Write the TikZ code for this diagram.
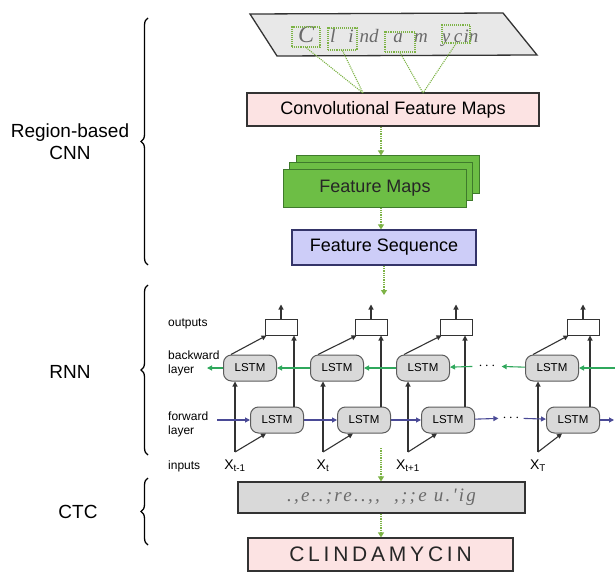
\documentclass[tikz,border=0pt]{standalone}
\usepackage{fontspec}
\setmainfont{Liberation Sans}
\newfontfamily\handfont{Liberation Serif}
\usepackage{xcolor}
\usetikzlibrary{arrows.meta,positioning,calc,decorations.pathreplacing}

\definecolor{convpink}{HTML}{FCE3E3}
\definecolor{fmgreen}{HTML}{6DBE45}
\definecolor{fmedge}{HTML}{3F7A2C}
\definecolor{seqblue}{HTML}{CDCDF8}
\definecolor{ctcgray}{HTML}{D9D9D9}
\definecolor{dotgreen}{HTML}{7DB346}
\definecolor{bwdgreen}{HTML}{2FA85C}
\definecolor{fwdnavy}{HTML}{4A4A96}
\definecolor{inkgray}{HTML}{6A6A6A}
\definecolor{edge}{HTML}{333333}

\begin{document}
\begin{tikzpicture}[x=1pt,y=-1pt,
    box/.style={draw=edge,line width=1.2pt,inner sep=0pt,font=\fontsize{18}{20}\selectfont},
    pinkb/.style={fill=convpink},
    greenb/.style={fill=fmgreen,draw=fmedge,minimum width=183pt,minimum height=37pt},
    blueb/.style={fill=seqblue},
    grayb/.style={fill=ctcgray},
    region/.style={draw=dotgreen,densely dotted,line width=1.1pt,inner sep=0pt},
    dotarrow/.style={draw=dotgreen,densely dotted,line width=1.3pt,-{Triangle[length=5pt,width=6pt]}},
    lstm/.style={draw=edge!80,fill=gray!30,line width=1pt,rounded corners=8pt,minimum width=53pt,minimum height=26pt,inner sep=0pt,font=\fontsize{11.5}{12}\selectfont},
    outbox/.style={draw=edge,fill=white,line width=1pt,minimum width=32pt,minimum height=16pt,inner sep=0pt},
    rnnarrow/.style={draw=edge,line width=1.1pt,-{Triangle[length=5pt,width=5pt]}},
    bwd/.style={draw=bwdgreen,line width=1.1pt,-{Triangle[length=5pt,width=5pt]}},
    fwd/.style={draw=fwdnavy,line width=1.1pt,-{Triangle[length=5pt,width=5pt]}},
    small/.style={font=\fontsize{12}{14}\selectfont,align=left,inner sep=0pt},
    side/.style={font=\fontsize{19}{22}\selectfont,align=center},
    brace/.style={decorate,decoration={brace,amplitude=7pt},line width=1.3pt}]
  \useasboundingbox (0,0) rectangle (615,572);

  % handwritten word
  \filldraw[fill=gray!18,draw=edge,line width=1.3pt] (250,14) -- (503,13) -- (537,55) -- (277,56) -- cycle;
  \foreach \x/\ch/\sz [count=\n] in {306/C/24,333/l/20,351/i/19,369/nd/19,398/a/19,421/m/19,446/y/19,458/c/19,471/in/19}
    \node[anchor=base,inner sep=0pt,text=inkgray,font=\handfont\itshape\fontsize{\sz}{20}\selectfont] (hw\n) at (\x,43) {\ch};
  \node[region,minimum width=28pt,minimum height=20pt] (reg1) at (306,37) {};
  \node[region,minimum width=29pt,minimum height=22pt] (reg2) at (342.5,39) {};
  \node[region,minimum width=30pt,minimum height=20pt] (reg3) at (400,42) {};
  \node[region,minimum width=28pt,minimum height=18pt] (reg4) at (456,34) {};

  % CNN column
  \node[box,pinkb,minimum width=292pt,minimum height=33pt] (conv) at (393,109.5) {Convolutional Feature Maps};
  \coordinate (cv1) at (363,93);
  \coordinate (cv2) at (423,93);
  \foreach \r/\c in {reg1/cv1,reg2/cv1,reg3/cv2,reg4/cv2}
    \draw[region] (\r.south) -- (\c);
  \node[greenb,line width=1pt] (fmback) at (387.5,174.5) {};
  \node[greenb,line width=1pt] (fmmid) at (381,181.5) {};
  \node[greenb,line width=1pt,font=\fontsize{18}{20}\selectfont,text=black!85] (fm) at (375,188.5) {Feature Maps};
  \node[box,blueb,draw=fwdnavy!70!black,minimum width=184pt,minimum height=35pt] (seq) at (384,247.5) {Feature Sequence};
  \coordinate (rnntop) at (384,295);
  \draw[dotarrow] (fmmid.north |- conv.south) -- (fmmid.north |- fmback.north);
  \draw[dotarrow] (fmmid.south |- fm.south) -- (fmmid.south |- seq.north);
  \draw[dotarrow] (seq.south) -- (rnntop);

  % bidirectional RNN
  \foreach \i/\bx/\fx/\ox/\ix/\lab in {1/250/277/281/235/{X\textsubscript{t-1}},2/337/364/371/323/{X\textsubscript{t}},
                                      3/423/448/456/408/{X\textsubscript{t+1}},4/552/573/583/538/{X\textsubscript{T}}} {
    \node[lstm] (bw\i) at (\bx,368) {LSTM};
    \node[lstm] (fw\i) at (\fx,420) {LSTM};
    \node[outbox] (out\i) at (\ox,327) {};
    \coordinate (in\i) at (\ix,452);
    \coordinate (up\i) at ($(fw\i.north east)+(-10,0)$);
    \coordinate (top\i) at ($(out\i.north)+(0,-14)$);
    \node[font=\fontsize{14}{16}\selectfont,inner sep=0pt] (xl\i) at (\ix,466) {\lab};
    \draw[rnnarrow] (in\i) -- (in\i |- bw\i.south);
    \draw[rnnarrow] (in\i) -- ($(fw\i.south west)+(16,0)$);
    \draw[rnnarrow] ($(bw\i.north west)+(8,0)$) -- ($(out\i.south west)+(2,0)$);
    \draw[rnnarrow] (up\i) -- (up\i |- out\i.south);
    \draw[rnnarrow] (out\i.north) -- (top\i);
  }
  \node[inner sep=6pt,font=\fontsize{14}{14}\selectfont] (bdots) at (487,366) {$\cdots$};
  \node[inner sep=4pt,font=\fontsize{14}{14}\selectfont] (fdots) at (511,418) {$\cdots$};
  \coordinate (bwin) at (615,368);
  \coordinate (bwout) at (207,368);
  \coordinate (fwin) at (217,420);
  \coordinate (fwout) at (614,420);
  \draw[bwd] (bwin) -- (bw4);
  \draw[bwd] (bw4) -- (bdots);
  \draw[bwd] (bdots) -- (bw3);
  \draw[bwd] (bw3) -- (bw2);
  \draw[bwd] (bw2) -- (bw1);
  \draw[bwd] (bw1) -- (bwout);
  \draw[fwd] (fwin) -- (fw1);
  \draw[fwd] (fw1) -- (fw2);
  \draw[fwd] (fw2) -- (fw3);
  \draw[fwd] (fw3) -- (fdots);
  \draw[fwd] (fdots) -- (fw4);
  \draw[fwd] (fw4) -- (fwout);
  \node[small,anchor=west] (lout) at (168,324) {outputs};
  \node[small,anchor=west] (lbwd) at (168,363) {backward\\layer};
  \node[small,anchor=west] (lfwd) at (168,424) {forward\\layer};
  \node[small,anchor=west] (linp) at (168,466) {inputs};

  % CTC decoding
  \coordinate (rnnbot) at (381,448);
  \node[box,grayb,minimum width=287pt,minimum height=31pt,text=inkgray,font=\handfont\itshape\fontsize{19}{20}\selectfont\addfontfeature{LetterSpace=12}] (ctc) at (381.5,497.5) {.,e..;re..,,\ \ ,;;e u.'ig};
  \node[box,pinkb,minimum width=265pt,minimum height=33pt,font=\fontsize{21}{24}\selectfont\addfontfeature{LetterSpace=18},text=black!85] (clin) at (380.5,554.5) {CLINDAMYCIN};
  \draw[dotarrow] (rnnbot) -- (rnnbot |- ctc.north);
  \draw[dotarrow] (rnnbot |- ctc.south) -- (rnnbot |- clin.north);

  % stage braces
  \coordinate (cnnbot) at (148,265);
  \coordinate (cnntop) at (148,18);
  \coordinate (rnnlow) at (148,455);
  \coordinate (rnnhigh) at (148,285);
  \coordinate (ctclow) at (148,545);
  \coordinate (ctchigh) at (148,478);
  \draw[brace] (cnnbot) -- (cnntop);
  \draw[brace] (rnnlow) -- (rnnhigh);
  \draw[brace] (ctclow) -- (ctchigh);
  \node[side] (lcnn) at (70,142) {Region-based\\CNN};
  \node[side] (lrnn) at (70,372) {RNN};
  \node[side] (lctc) at (78,512) {CTC};
\end{tikzpicture}
\end{document}
